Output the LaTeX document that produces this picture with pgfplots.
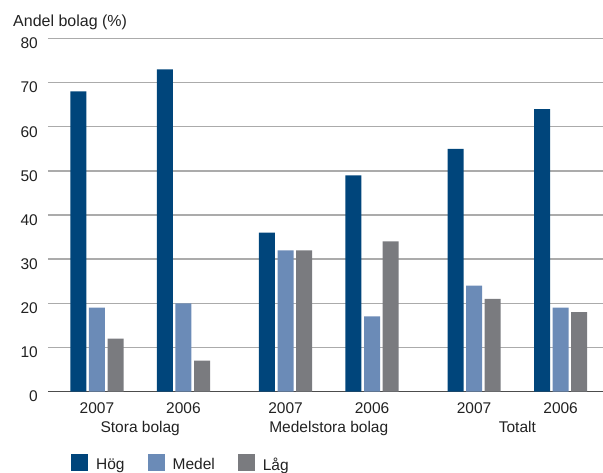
\documentclass[border=0pt]{standalone}
\usepackage{fontspec}
\setmainfont{Liberation Sans}
\usepackage{pgfplots}
\usepackage{pgfplotstable}
\pgfplotsset{compat=1.18}

\definecolor{hog}{HTML}{00457B}
\definecolor{medel}{HTML}{6B8BB7}
\definecolor{lag}{HTML}{7A7B7F}
\definecolor{txt}{HTML}{222222}

% x = position of each year cluster, then share (%) per level
\pgfplotstableread{
x     hog  medel  lag
0     68   19     12
1     73   20     7
2.18  36   32     32
3.18  49   17     34
4.36  55   24     21
5.36  64   19     18
}\andel

\newcommand{\lbl}{\fontsize{15.5}{18}\selectfont}

\begin{document}
\begin{tikzpicture}
\begin{axis}[
  name=ax,
  scale only axis,
  width=555pt, height=353pt,
  xmin=-0.566, xmax=5.85,
  ymin=0, ymax=80,
  ybar=2.6pt, bar width=16pt,
  axis line style={draw=none},
  ytick={10,20,...,80},
  extra y ticks={0},
  extra y tick style={grid style={draw=black!70, line width=1.8pt}},
  ymajorgrids,
  grid style={draw=black!33, line width=1.3pt},
  major tick length=0pt,
  xtick={0,1,2.18,3.18,4.36,5.36},
  xticklabels={2007,2006,2007,2006,2007,2006},
  /pgf/number format/assume math mode=true,
  tick label style={font=\lbl, text=txt},
  yticklabel style={anchor=east, inner sep=0pt, xshift=-10pt, yshift=-5pt},
  xticklabel style={anchor=base, inner sep=0pt, yshift=-22pt},
  clip=false,
  legend columns=3,
  legend style={
    at={(0.0414,-0.1756)}, anchor=north west,
    draw=none, fill=none, inner sep=0pt,
    font=\lbl, text=txt,
    nodes={inner sep=0pt},
    /tikz/every odd column/.append style={column sep=8pt},
    /tikz/every even column/.append style={column sep=23pt},
  },
]
\addplot[fill=hog, draw=none,
  legend image code/.code={\fill[hog] (0pt,-6pt) rectangle (17pt,11pt);}]
  table[x=x, y=hog] {\andel};
\addlegendentry{Hög}
\addplot[fill=medel, draw=none,
  legend image code/.code={\fill[medel] (0pt,-6pt) rectangle (17pt,11pt);}]
  table[x=x, y=medel] {\andel};
\addlegendentry{Medel}
\addplot[fill=lag, draw=none,
  legend image code/.code={\fill[lag] (0pt,-6pt) rectangle (17pt,11pt);}]
  table[x=x, y=lag] {\andel};
\addlegendentry{Låg}

\node[anchor=base, font=\lbl, text=txt, inner sep=0pt, yshift=-41pt] at (axis cs:0.5,0) {Stora bolag};
\node[anchor=base, font=\lbl, text=txt, inner sep=0pt, yshift=-41pt] at (axis cs:2.68,0) {Medelstora bolag};
\node[anchor=base, font=\lbl, text=txt, inner sep=0pt, yshift=-41pt] at (axis cs:4.86,0) {Totalt};
\end{axis}
\node[anchor=base west, inner sep=0pt, font=\fontsize{16}{19}\selectfont, text=txt]
  at ([xshift=-35pt,yshift=12.5pt]ax.north west) {Andel bolag (\%)};
\pgfresetboundingbox
\path ([xshift=-48pt,yshift=-81pt]ax.south west) rectangle ([yshift=38.5pt]ax.north east);
\end{tikzpicture}
\end{document}
